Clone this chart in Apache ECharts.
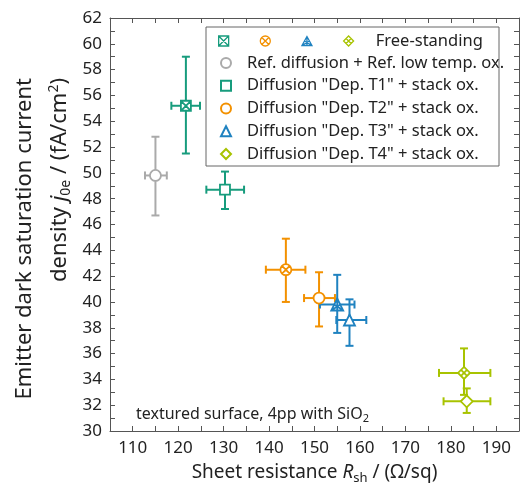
<!DOCTYPE html>
<html>
<head>
<meta charset="utf-8">
<script src="https://cdn.jsdelivr.net/npm/echarts@6/dist/echarts.min.js"></script>
<style>
  html, body { margin: 0; padding: 0; background: #fff; }
  #chart { width: 521px; height: 484px; }
</style>
</head>
<body>
<div id="chart"></div>
<script>
// rows: reference, T1..T4 with stack oxide, then free-standing T1..T4
const seriesNames = [
  'Ref. diffusion + Ref. low temp. ox.',
  'Diffusion "Dep. T1" + stack ox.',
  'Diffusion "Dep. T2" + stack ox.',
  'Diffusion "Dep. T3" + stack ox.',
  'Diffusion "Dep. T4" + stack ox.',
  'fs1', 'fs2', 'fs3', 'fs4'
]
const sheetRes = [115.0, 130.3, 151.0, 157.7, 183.5, 121.7, 143.7, 155.0, 182.9]
const sheetResLow = [112.7, 126.2, 147.7, 154.8, 178.4, 118.5, 139.3, 151.2, 177.4]
const sheetResHigh = [117.5, 134.5, 154.5, 161.4, 188.7, 124.8, 148.0, 158.8, 188.7]
const j0e = [49.8, 48.7, 40.3, 38.6, 32.3, 55.2, 42.5, 39.8, 34.5]
const j0eLow = [46.7, 47.2, 38.1, 36.6, 31.4, 51.5, 40.0, 37.6, 32.8]
const j0eHigh = [52.8, 50.1, 42.3, 40.2, 33.3, 59.0, 44.9, 42.1, 36.4]

const colors = ['#aaaaaa', '#179c7d', '#f39100', '#1f82c0', '#a8c300',
  '#179c7d', '#f39100', '#1f82c0', '#a8c300']
const symbols = ['circle', 'rect', 'circle', 'triangle', 'diamond',
  'path://M0,0L10,0L10,10L0,10Z M0,0L10,10 M10,0L0,10',
  'path://M10,5A5,5,0,1,1,0,5A5,5,0,1,1,10,5Z M1.5,1.5L8.5,8.5 M8.5,1.5L1.5,8.5',
  'path://M5,0L10,9L0,9Z M5,0L5,9 M0,9L7.5,4.5 M10,9L2.5,4.5',
  'path://M5,0L10,5L5,10L0,5Z M2.5,2.5L7.5,7.5 M7.5,2.5L2.5,7.5'
]
const symbolSizes = [11, 10, 11, 11, 12, 10, 11, 12, 12]

const font = 'Noto Sans'
const textColor = '#222'
const lineColor = '#555'

let chart = echarts.init(document.getElementById('chart'))

let barData = sheetRes.map((x, i) => [x, sheetResLow[i], sheetResHigh[i], j0e[i], j0eLow[i], j0eHigh[i], i])

function renderBars (params, api) {
  let x = api.value(0)
  let y = api.value(3)
  let c = api.coord([x, y])
  let l = api.coord([api.value(1), y])
  let r = api.coord([api.value(2), y])
  let b = api.coord([x, api.value(4)])
  let t = api.coord([x, api.value(5)])
  let cap = 4
  let style = { stroke: colors[api.value(6)], lineWidth: 2 }
  let seg = (x1, y1, x2, y2) => ({ type: 'line', shape: { x1, y1, x2, y2 }, style })
  return {
    type: 'group',
    children: [
      seg(l[0], c[1], r[0], c[1]),
      seg(c[0], b[1], c[0], t[1]),
      seg(l[0], c[1] - cap, l[0], c[1] + cap),
      seg(r[0], c[1] - cap, r[0], c[1] + cap),
      seg(c[0] - cap, t[1], c[0] + cap, t[1]),
      seg(c[0] - cap, b[1], c[0] + cap, b[1])
    ]
  }
}

let scatterSeries = seriesNames.map((name, i) => ({
  name: name,
  type: 'scatter',
  z: 3,
  symbol: symbols[i],
  symbolSize: symbolSizes[i],
  itemStyle: { color: '#fff', borderColor: colors[i], borderWidth: 1.8, opacity: 1 },
  data: [[sheetRes[i], j0e[i]]]
}))

let axisCommon = {
  axisLine: { show: true, onZero: false, lineStyle: { color: lineColor, width: 1 } },
  axisTick: { show: true, inside: true, length: 5, lineStyle: { color: lineColor } },
  splitLine: { show: false }
}

let subStyle = { fontSize: 13, color: textColor, fontFamily: font, verticalAlign: 'middle', padding: [11, 0, 0, 0] }

chart.setOption({
  animation: false,
  textStyle: { fontFamily: font },
  grid: { left: 110, right: 2, top: 18, bottom: 53, outerBoundsMode: 'none', containLabel: false },
  xAxis: [
    Object.assign({
      type: 'value',
      min: 105,
      max: 195,
      interval: 5,
      name: '{n|Sheet resistance }{i|R}{sub|sh}{n| / (Ω/sq)}',
      nameLocation: 'middle',
      nameGap: 30,
      nameTextStyle: {
        rich: {
          n: { fontSize: 19, color: textColor, fontFamily: font },
          i: { fontSize: 19, color: textColor, fontStyle: 'italic', fontFamily: font },
          sub: subStyle
        }
      },
      axisLabel: {
        color: textColor,
        fontSize: 17,
        margin: 9,
        formatter: v => (v % 10 === 0 ? String(v) : '')
      }
    }, axisCommon),
    Object.assign({
      type: 'value', position: 'top', min: 105, max: 195, interval: 5,
      axisLabel: { show: false }
    }, axisCommon)
  ],
  yAxis: [
    Object.assign({
      type: 'value',
      min: 30,
      max: 62,
      interval: 2,
      minorTick: { show: true, splitNumber: 2, length: 5, lineStyle: { color: lineColor } },
      axisLabel: { color: textColor, fontSize: 17, margin: 8 }
    }, axisCommon),
    Object.assign({
      type: 'value', position: 'right', min: 30, max: 62, interval: 2,
      minorTick: { show: true, splitNumber: 2, length: 5, lineStyle: { color: lineColor } },
      axisLabel: { show: false }
    }, axisCommon)
  ],
  legend: [
    {
      orient: 'horizontal',
      left: 218,
      top: 32.5,
      padding: 0,
      itemWidth: 10,
      itemHeight: 10,
      itemGap: 26,
      itemStyle: { borderWidth: 1.3 },
      data: ['fs1', 'fs2', 'fs3', 'fs4'],
      formatter: name => (name === 'fs4' ? '    Free-standing' : ''),
      textStyle: { fontSize: 16.5, lineHeight: 17, color: textColor, fontFamily: font },
      selectedMode: false
    },
    {
      orient: 'vertical',
      left: 220,
      top: 54.5,
      padding: 0,
      itemWidth: 10,
      itemHeight: 10,
      itemGap: 5.75,
      data: seriesNames.slice(0, 5),
      textStyle: { fontSize: 16.5, lineHeight: 17, color: textColor, fontFamily: font, padding: [0, 0, 0, 11] },
      selectedMode: false
    }
  ],
  graphic: [
    {
      type: 'rect',
      shape: { x: 206, y: 27, width: 293, height: 139 },
      style: { fill: 'none', stroke: '#666', lineWidth: 1 },
      z: 10
    },
    {
      type: 'text',
      left: 136,
      top: 406,
      style: {
        text: '{n|textured surface, 4pp with SiO}{sub|2}',
        rich: {
          n: { fontSize: 16, fill: textColor, fontFamily: font },
          sub: { fontSize: 11, fill: textColor, fontFamily: font, verticalAlign: 'middle', padding: [9, 0, 0, 0] }
        }
      }
    },
    {
      // y axis title, rotated
      type: 'text',
      x: 42.5,
      y: 78,
      rotation: Math.PI / 2,
      style: {
        text: '{n|Emitter dark saturation current}\n{n|density }{i|j}{sub|0e}{n| / (fA/cm}{sup|2}{n|)}',
        align: 'right',
        verticalAlign: 'middle',
        rich: {
          n: { fontSize: 22, lineHeight: 35, fill: textColor, fontFamily: font },
          i: { fontSize: 22, lineHeight: 35, fill: textColor, fontStyle: 'italic', fontFamily: font },
          sub: { fontSize: 14, fill: textColor, fontFamily: font, verticalAlign: 'middle', padding: [12, 0, 0, 0] },
          sup: { fontSize: 14, fill: textColor, fontFamily: font, verticalAlign: 'middle', padding: [0, 0, 12, 0] }
        }
      }
    }
  ],
  series: [
    {
      type: 'custom',
      name: 'errorbars',
      z: 2,
      renderItem: renderBars,
      encode: { x: 0, y: 3 },
      data: barData
    }
  ].concat(scatterSeries)
})
</script>
</body>
</html>
